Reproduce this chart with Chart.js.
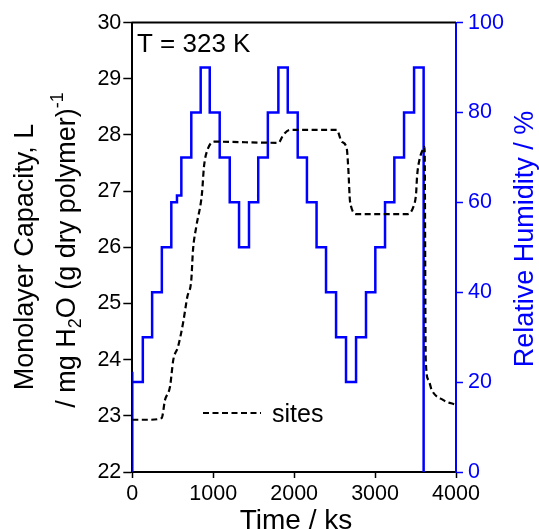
<!DOCTYPE html>
<html><head><meta charset="utf-8">
<script src="https://cdn.jsdelivr.net/npm/chart.js@4.4.1/dist/chart.umd.min.js"></script>
<style>html,body{margin:0;padding:0;background:#fff;}#wrap{width:539px;height:529px;}</style>
</head><body><div id="wrap"><canvas id="c" width="539" height="529"></canvas></div>
<script>
// Relative humidity program (step start time in ks, RH %)
const rhTime = [0, 0, 0, 130, 245, 365, 482, 552, 606, 729, 845, 957, 1080, 1204, 1319, 1442, 1556, 1675, 1805, 1921, 2044, 2158, 2277, 2394, 2518, 2641, 2765, 2888, 3003, 3123, 3238, 3358, 3482, 3600];
const rhValue = [0, 22.3, 20, 30, 40, 50, 60, 61.5, 70, 80, 90, 80, 70, 60, 50, 60, 70, 80, 90, 80, 70, 60, 50, 40, 30, 20, 30, 40, 50, 60, 70, 80, 90, 0];
// Monolayer capacity (sites)
const sitesTime = [0, 200, 363, 404, 466, 507, 565, 627, 680, 729, 750, 791, 861, 886, 936, 1010, 1805, 1866, 1949, 2526, 2588, 2650, 2670, 2691, 2774, 3392, 3473, 3507, 3519, 3547, 3597, 3612, 3626, 3659, 3700, 3844, 3989];
const sitesL = [22.93, 22.93, 22.96, 23.28, 23.52, 24.0, 24.23, 24.65, 25.12, 25.42, 25.95, 26.37, 26.96, 27.44, 27.76, 27.88, 27.86, 28.0, 28.09, 28.09, 27.88, 27.76, 27.38, 26.81, 26.59, 26.59, 26.72, 26.96, 27.26, 27.55, 27.76, 27.79, 24.0, 23.64, 23.46, 23.28, 23.2];
const xTicks = [0, 1000, 2000, 3000, 4000];
const leftTicks = [22, 23, 24, 25, 26, 27, 28, 29, 30];
const rightTicks = [0, 20, 40, 60, 80, 100];

const FONT = '"Liberation Sans", Arial, sans-serif';
const BLUE = '#0000ff';

const decor = {
  id: 'decor',
  afterDraw(chart) {
    const ctx = chart.ctx, a = chart.chartArea;
    ctx.save();
    // top border
    ctx.strokeStyle = '#000'; ctx.lineWidth = 2;
    ctx.beginPath(); ctx.moveTo(a.left - 1, a.top); ctx.lineTo(a.right, a.top); ctx.stroke();
    // annotation
    ctx.fillStyle = '#000';
    ctx.font = '26px ' + FONT;
    ctx.textAlign = 'left'; ctx.textBaseline = 'alphabetic';
    ctx.fillText('T = 323 K', 137, 51.5);
    // legend
    ctx.setLineDash([6, 3.5]); ctx.lineWidth = 2.2;
    ctx.beginPath(); ctx.moveTo(203, 413); ctx.lineTo(261, 413); ctx.stroke();
    ctx.setLineDash([]);
    ctx.font = '25px ' + FONT;
    ctx.fillText('sites', 272, 421.5);
    // x title
    ctx.font = '28px ' + FONT; ctx.textAlign = 'center';
    ctx.fillText('Time / ks', 296, 529);
    // right title
    ctx.save();
    ctx.translate(533, 239); ctx.rotate(-Math.PI / 2);
    ctx.fillStyle = BLUE; ctx.font = '27px ' + FONT; ctx.textAlign = 'center';
    ctx.fillText('Relative Humidity / %', 0, 0);
    ctx.restore();
    // left title line 1
    ctx.save();
    ctx.translate(33, 257); ctx.rotate(-Math.PI / 2);
    ctx.font = '27px ' + FONT; ctx.textAlign = 'center';
    ctx.fillText('Monolayer Capacity, L', 0, 0);
    ctx.restore();
    // left title line 2 with sub/superscript
    ctx.save();
    ctx.translate(75, 250); ctx.rotate(-Math.PI / 2);
    const big = '27px ' + FONT, small = '18px ' + FONT;
    const parts = [['/ mg H', big, 0], ['2', small, 6], ['O (g dry polymer)', big, 0], ['-1', small, -12]];
    let total = 0;
    parts.forEach(p => { ctx.font = p[1]; total += ctx.measureText(p[0]).width; });
    let x = -total / 2;
    ctx.textAlign = 'left';
    parts.forEach(p => { ctx.font = p[1]; ctx.fillText(p[0], x, p[2]); x += ctx.measureText(p[0]).width; });
    ctx.restore();
    ctx.restore();
  }
};

new Chart(document.getElementById('c'), {
  type: 'line',
  data: {
    datasets: [
      {
        label: 'sites',
        data: sitesTime.map((t, i) => ({ x: t, y: sitesL[i] })),
        yAxisID: 'y',
        borderColor: '#000', borderWidth: 2.2, borderDash: [6, 3.5],
        pointRadius: 0, fill: false, cubicInterpolationMode: 'monotone'
      },
      {
        label: 'RH',
        data: rhTime.map((t, i) => ({ x: t, y: rhValue[i] })),
        yAxisID: 'y1',
        borderColor: BLUE, borderWidth: 2.5, stepped: 'before',
        pointRadius: 0, fill: false
      }
    ]
  },
  options: {
    responsive: false, animation: false, devicePixelRatio: 1,
    layout: { padding: { top: 22.6, left: 0, right: 0, bottom: 0 } },
    plugins: { legend: { display: false }, tooltip: { enabled: false } },
    scales: {
      x: {
        type: 'linear', min: 0, max: 4000,
        afterFit(s) { s.height = 57; },
        afterBuildTicks(s) { s.ticks = xTicks.map(v => ({ value: v })); },
        border: { display: true, color: '#000', width: 2 },
        grid: { drawOnChartArea: false, drawTicks: true, tickLength: 6, tickColor: '#000', tickWidth: 1.5 },
        ticks: { color: '#000', font: { family: FONT, size: 21.5 }, padding: 3, maxRotation: 0, callback: v => String(v) }
      },
      y: {
        position: 'left', min: 22, max: 30,
        afterFit(s) { s.width = 132.3; },
        afterBuildTicks(s) { s.ticks = leftTicks.map(v => ({ value: v })); },
        border: { display: true, color: '#000', width: 2 },
        grid: { drawOnChartArea: false, drawTicks: true, tickLength: 9, tickColor: '#000', tickWidth: 1.5 },
        ticks: { color: '#000', font: { family: FONT, size: 21.5 }, padding: 2, callback: v => String(v) }
      },
      y1: {
        position: 'right', min: 0, max: 100,
        afterFit(s) { s.width = 83; },
        afterBuildTicks(s) { s.ticks = rightTicks.map(v => ({ value: v })); },
        border: { display: true, color: BLUE, width: 2 },
        grid: { drawOnChartArea: false, drawTicks: true, tickLength: 7, tickColor: BLUE, tickWidth: 1.5 },
        ticks: { color: BLUE, font: { family: FONT, size: 21.5 }, padding: 5, callback: v => String(v) }
      }
    }
  },
  plugins: [decor]
});
</script></body></html>
